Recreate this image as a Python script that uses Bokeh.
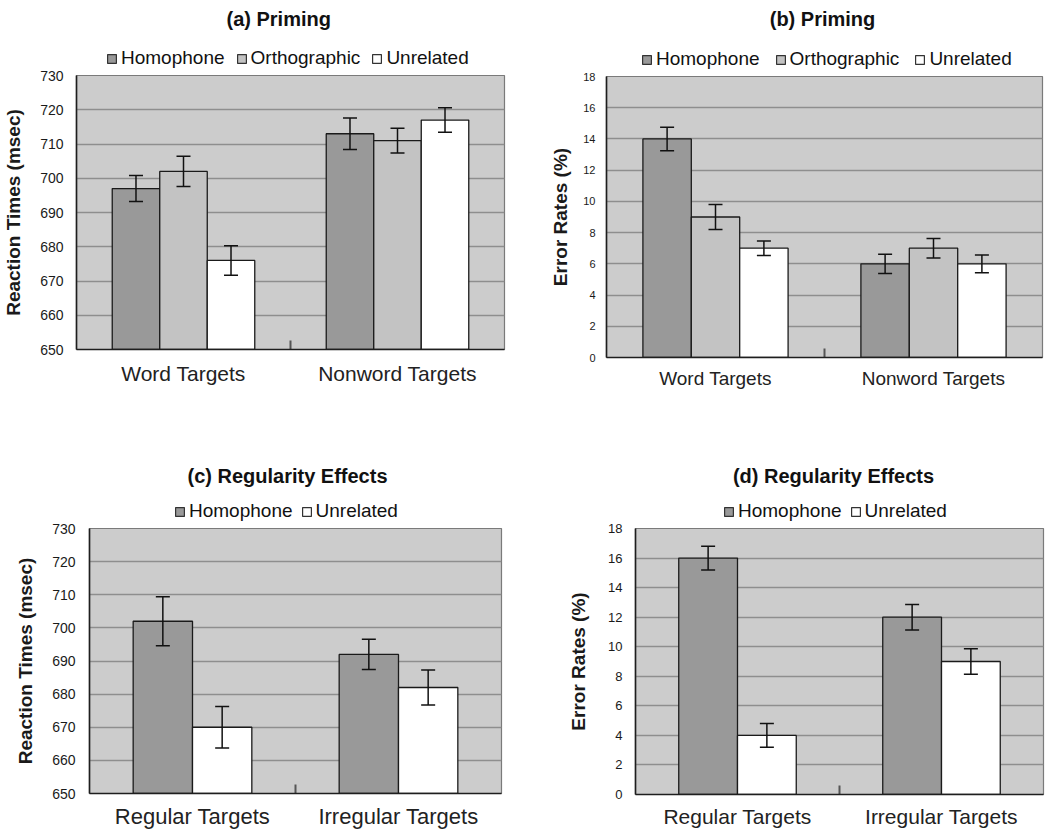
from bokeh.plotting import figure
from bokeh.models import (FactorRange, Range1d, Whisker, ColumnDataSource, Legend,
                          LegendItem, Label, SingleIntervalTicker, TeeHead)
from bokeh.transform import dodge
from bokeh.layouts import column, row
from bokeh.embed import file_html
from bokeh.resources import INLINE

FONT = "Liberation Sans"

# ---------------- data ----------------
priming_targets = ["Word Targets", "Nonword Targets"]
regularity_targets = ["Regular Targets", "Irregular Targets"]

# (a) reaction times, priming
rt_prime_homophone = [697, 713]
rt_prime_orthographic = [702, 711]
rt_prime_unrelated = [676, 717]
rt_prime_homophone_err = [3.8, 4.6]
rt_prime_orthographic_err = [4.4, 3.6]
rt_prime_unrelated_err = [4.3, 3.6]

# (b) error rates, priming
er_prime_homophone = [14, 6]
er_prime_orthographic = [9, 7]
er_prime_unrelated = [7, 6]
er_prime_homophone_err = [0.75, 0.62]
er_prime_orthographic_err = [0.8, 0.62]
er_prime_unrelated_err = [0.46, 0.57]

# (c) reaction times, regularity
rt_reg_homophone = [702, 692]
rt_reg_unrelated = [670, 682]
rt_reg_homophone_err = [7.4, 4.6]
rt_reg_unrelated_err = [6.3, 5.3]

# (d) error rates, regularity
er_reg_homophone = [16, 12]
er_reg_unrelated = [4, 9]
er_reg_homophone_err = [0.8, 0.86]
er_reg_unrelated_err = [0.8, 0.86]

COLORS = {"Homophone": "#999999", "Orthographic": "#c3c3c3", "Unrelated": "#ffffff"}
BAR_LINE = "#1a1a1a"


def make_header(title, names, width, bl, br, hh, title_y, title_dx, leg_x, leg_spacing):
    """Title + legend strip drawn above a panel (no side panels needed)."""
    h = figure(x_range=Range1d(0, 1), y_range=Range1d(0, 1), width=width, height=hh,
               min_border_left=bl, min_border_right=br, min_border_top=0, min_border_bottom=0,
               x_axis_location=None, y_axis_location=None, title=None,
               output_backend="svg", toolbar_location=None)
    h.grid.visible = False
    h.outline_line_color = None
    h.background_fill_color = "white"
    items = []
    for name in names:
        # legend proxy renderer, its single bar lies outside the strip's ranges
        r = h.vbar(x=[-5], top=[-5], bottom=-6, width=0.1, fill_color=COLORS[name],
                   line_color="#333333", line_width=1.2)
        items.append(LegendItem(label=name, renderers=[r]))
    legend = Legend(items=items, orientation="horizontal", location=(leg_x, 0),
                    glyph_width=11, glyph_height=11, label_standoff=4,
                    spacing=leg_spacing, padding=0, margin=0,
                    border_line_color=None, background_fill_alpha=0,
                    label_text_font=FONT, label_text_font_size="19px",
                    label_text_color="#111111", label_height=14)
    h.add_layout(legend, "center")
    h.add_layout(Label(x=0.5, y=title_y, y_units="screen", x_offset=title_dx, text=title,
                       text_align="center", text_baseline="middle", text_font=FONT,
                       text_font_size="20px", text_font_style="bold", text_color="#111111"))
    return h


def make_panel(ylabel, cats, series, y0, y1, step, fw, fh, borders,
               tick_fs, xlab_fs, xlab_standoff, bar_w, ylab_standoff, ytick_standoff):
    bl, br, bt, bb = borders
    p = figure(x_range=FactorRange(*cats), y_range=Range1d(y0, y1),
               width=bl + fw + br, height=bt + fh + bb, title=None,
               min_border_left=bl, min_border_right=br,
               min_border_top=bt, min_border_bottom=bb,
               output_backend="svg", toolbar_location=None)
    p.background_fill_color = "#cccccc"
    p.border_fill_color = "white"
    p.outline_line_color = "#7a7a7a"
    p.outline_line_width = 1.2

    n = len(series)
    whiskers = []
    for i, (name, vals, errs) in enumerate(series):
        off = (i - (n - 1) / 2) * bar_w
        src = ColumnDataSource(dict(
            cat=cats, top=vals,
            upper=[v + e for v, e in zip(vals, errs)],
            lower=[v - e for v, e in zip(vals, errs)]))
        p.vbar(x=dodge("cat", off, range=p.x_range), top="top", bottom=y0,
               width=bar_w, source=src, fill_color=COLORS[name],
               line_color=BAR_LINE, line_width=1.3)
        whiskers.append(Whisker(
            base=dodge("cat", off, range=p.x_range), upper="upper", lower="lower",
            source=src, line_color="#111111", line_width=1.5, level="overlay",
            upper_head=TeeHead(size=14, line_color="#111111", line_width=1.5),
            lower_head=TeeHead(size=14, line_color="#111111", line_width=1.5)))
    for w in whiskers:
        p.add_layout(w)

    # inner divider tick between the two categories (Excel style)
    tick_len = (y1 - y0) * 9.0 / fh
    tsrc = ColumnDataSource(dict(cat=[cats[0]], b=[y0], t=[y0 + tick_len]))
    p.segment(x0=dodge("cat", 0.5, range=p.x_range), x1=dodge("cat", 0.5, range=p.x_range),
              y0="b", y1="t", source=tsrc, line_color="#555555", line_width=2)

    p.xgrid.visible = False
    p.ygrid.grid_line_color = "#8e8e8e"
    p.ygrid.grid_line_width = 1.3
    p.yaxis.ticker = SingleIntervalTicker(interval=step)
    p.ygrid.ticker = SingleIntervalTicker(interval=step)
    for ax in (p.xaxis[0], p.yaxis[0]):
        ax.axis_line_color = "#1e1e1e"
        ax.axis_line_width = 1.6
        ax.major_tick_line_color = None
        ax.minor_tick_line_color = None
        ax.major_tick_out = 0
        ax.major_tick_in = 0
    p.xaxis.major_label_text_font = FONT
    p.xaxis.major_label_text_font_size = xlab_fs
    p.xaxis.major_label_text_color = "#222222"
    p.xaxis.major_label_standoff = xlab_standoff
    p.yaxis.major_label_text_font = FONT
    p.yaxis.major_label_text_font_size = tick_fs
    p.yaxis.major_label_text_color = "#1a1a1a"
    p.yaxis.major_label_standoff = ytick_standoff
    p.yaxis.axis_label = ylabel
    p.yaxis.axis_label_text_font = FONT
    p.yaxis.axis_label_text_font_size = "19px"
    p.yaxis.axis_label_text_font_style = "bold"
    p.yaxis.axis_label_text_color = "#1a1a1a"
    p.yaxis.axis_label_standoff = ylab_standoff
    return p


three = ["Homophone", "Orthographic", "Unrelated"]
two = ["Homophone", "Unrelated"]

# panel (a)
ha = make_header("(a)  Priming", three, 546, 69, 42, 69, 51, -9, 30, 11)
pa = make_panel("Reaction Times (msec)", priming_targets,
                [("Homophone", rt_prime_homophone, rt_prime_homophone_err),
                 ("Orthographic", rt_prime_orthographic, rt_prime_orthographic_err),
                 ("Unrelated", rt_prime_unrelated, rt_prime_unrelated_err)],
                650, 730, 10, 435, 274, (69, 42, 6, 91), "14px", "21px", 12,
                0.222, 13, 9)

# panel (b)
hb = make_header("(b) Priming", three, 498, 60, 2, 70, 52, -2, 35, 15)
pb = make_panel("Error Rates (%)", priming_targets,
                [("Homophone", er_prime_homophone, er_prime_homophone_err),
                 ("Orthographic", er_prime_orthographic, er_prime_orthographic_err),
                 ("Unrelated", er_prime_unrelated, er_prime_unrelated_err)],
                0, 18, 2, 436, 281, (60, 2, 6, 83), "11px", "19px", 10,
                0.222, 9, 7)

# panel (c)
hc = make_header("(c) Regularity Effects", two, 565, 89, 64, 82, 47, -8, 85, 8)
pc = make_panel("Reaction Times (msec)", regularity_targets,
                [("Homophone", rt_reg_homophone, rt_reg_homophone_err),
                 ("Unrelated", rt_reg_unrelated, rt_reg_unrelated_err)],
                650, 730, 10, 412, 266, (89, 64, 6, 37), "14px", "22px", 10,
                0.288, 13, 10)

# panel (d)
hd = make_header("(d) Regularity Effects", two, 480, 70, 2, 82, 47, -6, 88, 8)
pd_ = make_panel("Error Rates (%)", regularity_targets,
                 [("Homophone", er_reg_homophone, er_reg_homophone_err),
                  ("Unrelated", er_reg_unrelated, er_reg_unrelated_err)],
                 0, 18, 2, 408, 266, (70, 2, 6, 37), "13px", "21px", 10,
                 0.288, 16, 9)

layout = column(row(column(ha, pa), column(hb, pb)),
                row(column(hc, pc), column(hd, pd_)))

open("out.html", "w").write(file_html(layout, INLINE))
